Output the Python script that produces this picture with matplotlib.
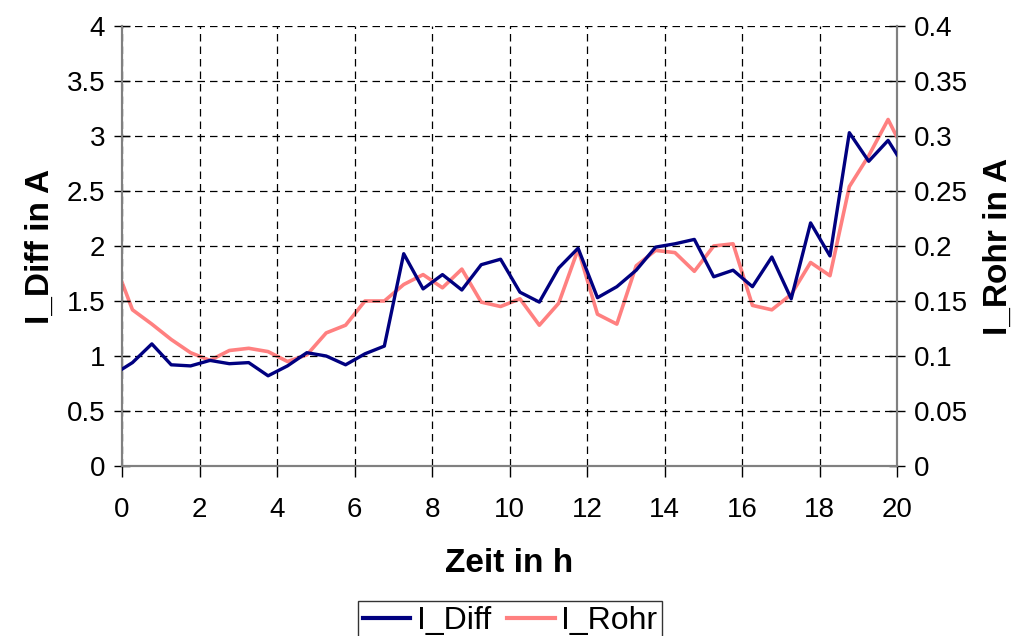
import matplotlib.pyplot as plt
from matplotlib.lines import Line2D

plt.rcParams['font.family'] = ['Liberation Sans', 'DejaVu Sans']

# time points in h
zeit = [0.0] + [round(0.27 + 0.5 * k, 2) for k in range(40)] + [20.0]

i_diff = [0.88, 0.94, 1.11, 0.92, 0.91, 0.96, 0.93, 0.94, 0.82, 0.91,
          1.03, 1.00, 0.92, 1.02, 1.09, 1.93, 1.61, 1.74, 1.60, 1.83,
          1.88, 1.58, 1.49, 1.80, 1.98, 1.53, 1.63, 1.78, 1.99, 2.02,
          2.06, 1.72, 1.78, 1.63, 1.90, 1.52, 2.21, 1.91, 3.03, 2.77,
          2.96, 2.83]

i_rohr = [0.167, 0.142, 0.129, 0.115, 0.103, 0.096, 0.105, 0.107, 0.104, 0.095,
          0.101, 0.121, 0.128, 0.150, 0.150, 0.165, 0.174, 0.162, 0.179, 0.149,
          0.145, 0.152, 0.128, 0.148, 0.197, 0.138, 0.129, 0.182, 0.196, 0.194,
          0.177, 0.200, 0.202, 0.146, 0.142, 0.156, 0.185, 0.173, 0.254, 0.282,
          0.315, 0.299]

blue = '#000080'
red = '#FF8080'
spine_col = '#808080'

fig = plt.figure(figsize=(10.25, 6.36), dpi=100)
ax = fig.add_axes([122 / 1025, 1 - 466 / 636, 775 / 1025, 440 / 636])
ax2 = ax.twinx()

ax.plot(zeit, i_diff, color=blue, lw=2.4, zorder=3)
ax2.plot(zeit, i_rohr, color=red, lw=2.6, zorder=2)
ax.set_zorder(ax2.get_zorder() + 1)
ax.patch.set_visible(False)

ax.set_xlim(0, 20)
ax.set_ylim(0, 4)
ax2.set_ylim(0, 0.4)
ax.set_xticks(range(0, 21, 2))
ax.set_yticks([0, 0.5, 1, 1.5, 2, 2.5, 3, 3.5, 4])
ax.set_yticklabels(['0', '0.5', '1', '1.5', '2', '2.5', '3', '3.5', '4'])
ax2.set_yticks([0, 0.05, 0.1, 0.15, 0.2, 0.25, 0.3, 0.35, 0.4])
ax2.set_yticklabels(['0', '0.05', '0.1', '0.15', '0.2', '0.25', '0.3', '0.35', '0.4'])

ax.grid(True, color='black', linestyle=(0, (6, 4)), linewidth=0.9)

for a in (ax, ax2):
    for s in a.spines.values():
        s.set_color(spine_col)
        s.set_linewidth(1.5)
ax.spines['top'].set_visible(False)
ax2.spines['top'].set_visible(False)

ax.tick_params(axis='x', direction='out', length=8, width=1, color='black',
               labelsize=20, pad=14)
ax.tick_params(axis='y', direction='inout', length=12, width=1, color='black',
               labelsize=20, pad=6)
ax2.tick_params(axis='y', direction='inout', length=12, width=1, color='black',
                labelsize=20, pad=6)

ax.set_xlabel('Zeit in h', fontsize=24, fontweight='bold', labelpad=18)
ax.set_ylabel('I_Diff in A', fontsize=24, fontweight='bold', labelpad=8)
ax2.set_ylabel('I_Rohr in A', fontsize=24, fontweight='bold', labelpad=11)

handles = [Line2D([], [], color=blue, lw=3), Line2D([], [], color=red, lw=3)]
leg = fig.legend(handles, ['I_Diff', 'I_Rohr'], loc='upper center',
                 bbox_to_anchor=(510 / 1025, 1 - 601 / 636), ncol=2,
                 fontsize=23, frameon=True, fancybox=False, edgecolor='black',
                 handlelength=1.5, handletextpad=0.2, columnspacing=0.5,
                 borderpad=0.15, borderaxespad=0)
leg.get_frame().set_linewidth(1.0)

fig.savefig('out.png', dpi=100)
